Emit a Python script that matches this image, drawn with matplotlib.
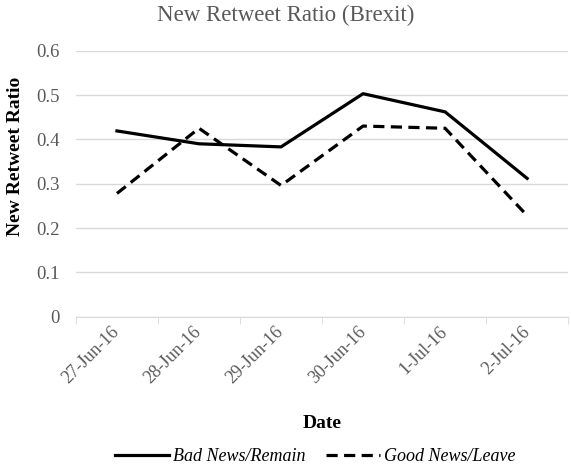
import matplotlib
matplotlib.use("Agg")
import matplotlib.pyplot as plt
import numpy as np

# data
dates = ["27-Jun-16", "28-Jun-16", "29-Jun-16", "30-Jun-16", "1-Jul-16", "2-Jul-16"]
bad_remain = [0.419, 0.390, 0.383, 0.503, 0.462, 0.312]
good_leave = [0.278, 0.425, 0.296, 0.430, 0.425, 0.228]

plt.rcParams['font.family'] = ['Liberation Serif', 'DejaVu Serif']
grey = '#595959'

fig = plt.figure(figsize=(5.71, 4.68), dpi=100)
ax = fig.add_axes([0.133, 0.3233, 0.862, 0.5684])

x = np.arange(len(dates))
ax.plot(x, bad_remain, color='black', lw=2.3, label='Bad News/Remain')
ax.plot(x, good_leave, color='black', lw=2.3, ls=(0, (3.5, 2)), label='Good News/Leave')

ax.set_xlim(-0.5, len(dates) - 0.5)
ax.set_ylim(0, 0.6)
ax.set_yticks(np.arange(0, 0.61, 0.1))
ax.set_yticklabels(['0', '0.1', '0.2', '0.3', '0.4', '0.5', '0.6'])
ax.grid(axis='y', color='#d9d9d9', lw=1)
ax.set_axisbelow(True)

for s in ['top', 'right', 'left']:
    ax.spines[s].set_visible(False)
ax.spines['bottom'].set_color('#d9d9d9')

# category boundary ticks
ax.set_xticks(np.arange(-0.5, len(dates), 1.0), minor=True)
ax.set_xticks(x)
ax.set_xticklabels(dates, rotation=45, ha='right', va='center', rotation_mode='anchor')
ax.tick_params(axis='x', which='major', length=0, pad=9, labelsize=13, colors=grey)
ax.tick_params(axis='x', which='minor', length=5, color='#d9d9d9')
ax.tick_params(axis='y', length=0, labelsize=13.5, colors=grey, pad=12)

ax.set_ylabel('New Retweet Ratio', fontsize=14, fontweight='bold')
ax.yaxis.set_label_coords(-0.105, 0.604)
ax.set_xlabel('Date', fontsize=14, fontweight='bold', labelpad=20)
fig.text(0.5, 0.968, 'New Retweet Ratio (Brexit)', ha='center', va='center', fontsize=16.5, color=grey)

leg = fig.legend(loc='center', bbox_to_anchor=(0.552, 0.024), ncol=2, frameon=False,
                 prop={'style': 'italic', 'size': 13}, handlelength=3.0, columnspacing=1.1,
                 handletextpad=0.25)

fig.savefig('out.png', dpi=100)
